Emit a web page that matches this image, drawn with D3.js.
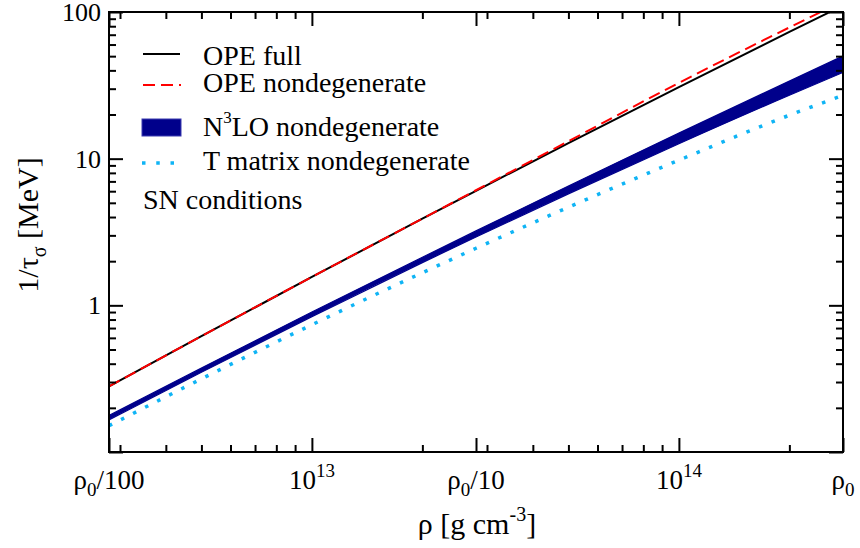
<!DOCTYPE html>
<html><head><meta charset="utf-8">
<script src="https://cdn.jsdelivr.net/npm/d3@7"></script>
<style>body{margin:0;background:#fff}svg{display:block}</style>
</head><body><svg id="c" width="860" height="548" font-family="'Liberation Serif', 'Times New Roman', Times, 'DejaVu Serif', serif"></svg>
<script>
// densities (g/cm^3)
const rho = [2.8e12, 5e12, 1e13, 2e13, 2.8e13, 5e13, 1e14, 2e14, 2.8e14];
const opeFull = [0.280, 0.616, 1.561, 3.898, 6.04, 12.77, 30.77, 73.1, 110.7];
const opeNondeg = [0.280, 0.616, 1.561, 3.90, 6.09, 13.15, 32.9, 78.5, 118.5];
const n3loLow = [0.1656, 0.3494, 0.8358, 1.956, 2.921, 5.754, 12.65, 27.09, 38.7];
const n3loHigh = [0.1774, 0.3744, 0.8997, 2.126, 3.217, 6.515, 14.94, 33.8, 50.1];
const tMatrix = [0.151, 0.3152, 0.7375, 1.668, 2.450, 4.665, 9.765, 19.78, 27.0];
const xMajor = [2.8e12, 1e13, 2.8e13, 1e14, 2.8e14];
const xMajorLabels = [["ρ","0","/100"], ["10","13",""], ["ρ","0","/10"], ["10","14",""], ["ρ","0",""]];
const xMinor = [3e12,4e12,5e12,6e12,7e12,8e12,9e12,2e13,3e13,4e13,5e13,6e13,7e13,8e13,9e13,2e14];
const yMajor = [0.1, 1, 10, 100];
const yMajorLabels = ["", "1", "10", "100"];
const yMinor = [0.2,0.3,0.4,0.5,0.6,0.7,0.8,0.9,2,3,4,5,6,7,8,9,20,30,40,50,60,70,80,90];
const legendItems = ["OPE full", "OPE nondegenerate", "N3LO nondegenerate", "T matrix nondegenerate"];
const note = "SN conditions";

const L = 109, R = 843, T = 12, B = 452;
const svg = d3.select("#c");
const x = d3.scaleLog().domain([2.8e12, 2.8e14]).range([L, R]);
const y = d3.scaleLog().domain([0.1, 100]).range([B, T]);

svg.append("clipPath").attr("id","clip").append("rect").attr("x",L).attr("y",T).attr("width",R-L).attr("height",B-T);
const g = svg.append("g").attr("clip-path","url(#clip)");

const idx = d3.range(rho.length);
const line = arr => d3.line().x(i => x(rho[i])).y(i => y(arr[i])).curve(d3.curveMonotoneX)(idx);
const area = d3.area().x(i => x(rho[i])).y0(i => y(n3loLow[i])).y1(i => y(n3loHigh[i])).curve(d3.curveMonotoneX);

g.append("path").attr("d", area(idx)).attr("fill","#00008b").attr("stroke","#00008b").attr("stroke-width",1.2);
g.append("path").attr("d", line(tMatrix)).attr("fill","none").attr("stroke","#0fb4f5").attr("stroke-width",3.5).attr("stroke-dasharray","3.5,10");
g.append("path").attr("d", line(opeFull)).attr("fill","none").attr("stroke","#000").attr("stroke-width",2);
g.append("path").attr("d", line(opeNondeg)).attr("fill","none").attr("stroke","#ff0000").attr("stroke-width",2).attr("stroke-dasharray","12,6");

// frame
svg.append("rect").attr("x",L).attr("y",T).attr("width",R-L).attr("height",B-T).attr("fill","none").attr("stroke","#000").attr("stroke-width",2);

// axes (inward ticks, mirrored)
const mk = (fn, vals, len) => fn(x).tickValues(vals).tickSizeInner(-len).tickSizeOuter(0).tickFormat("");
const mky = (fn, vals, len) => fn(y).tickValues(vals).tickSizeInner(-len).tickSizeOuter(0).tickFormat("");
[[mk(d3.axisBottom,xMajor,14),0,B],[mk(d3.axisBottom,xMinor,7),0,B],[mk(d3.axisTop,xMajor,14),0,T],[mk(d3.axisTop,xMinor,7),0,T],
 [mky(d3.axisLeft,yMajor,14),L,0],[mky(d3.axisLeft,yMinor,7),L,0],[mky(d3.axisRight,yMajor,14),R,0],[mky(d3.axisRight,yMinor,7),R,0]].forEach(([ax,tx,ty])=>{
  const a = svg.append("g").attr("transform",`translate(${tx},${ty})`).call(ax);
  a.select(".domain").remove();
  a.selectAll("line").attr("stroke","#000").attr("stroke-width",2);
  a.selectAll("text").remove();
});

const FF = "'Liberation Serif', 'Times New Roman', Times, 'DejaVu Serif', serif";
// x tick labels
xMajor.forEach((v,i)=>{
  const [a,s,b] = xMajorLabels[i];
  const isPow = a === "10";
  const t = svg.append("text").attr("font-family",FF).attr("x", x(v)).attr("y", 489).attr("text-anchor","middle").attr("font-size",27);
  t.append("tspan").text(a);
  t.append("tspan").attr("font-size",19).attr("dy", isPow ? -12 : 7).text(s);
  if (b) t.append("tspan").attr("dy", isPow ? 12 : -7).text(b);
});
// y tick labels
yMajor.forEach((v,i)=>{
  if (!yMajorLabels[i]) return;
  svg.append("text").attr("font-family",FF).attr("x",101).attr("y", y(v)+9).attr("text-anchor","end").attr("font-size",26).text(yMajorLabels[i]);
});

// axis titles
const xt = svg.append("text").attr("font-family",FF).attr("x",477).attr("y",534).attr("text-anchor","middle").attr("font-size",30);
xt.append("tspan").text("ρ [g cm");
xt.append("tspan").attr("font-size",20).attr("dy",-13).text("-3");
xt.append("tspan").attr("dy",13).text("]");
const yt = svg.append("text").attr("font-family",FF).attr("transform","translate(38,225) rotate(-90)").attr("text-anchor","middle").attr("font-size",30);
yt.append("tspan").text("1/τ");
yt.append("tspan").attr("font-size",20).attr("dy",8).text("σ");
yt.append("tspan").attr("dy",-8).text(" [MeV]");

// legend
const lx = 203;
svg.append("line").attr("x1",143).attr("x2",180).attr("y1",54).attr("y2",54).attr("stroke","#000").attr("stroke-width",2);
svg.append("line").attr("x1",143).attr("x2",181).attr("y1",85).attr("y2",85).attr("stroke","#ff0000").attr("stroke-width",2).attr("stroke-dasharray","12,6");
svg.append("rect").attr("x",142).attr("y",119).attr("width",39).attr("height",17).attr("fill","#00008b").attr("stroke","#3a3ab0").attr("stroke-width",1);
svg.append("line").attr("x1",142).attr("x2",178).attr("y1",163).attr("y2",163).attr("stroke","#0fb4f5").attr("stroke-width",3.5).attr("stroke-dasharray","3.5,10.75");
svg.append("text").attr("font-family",FF).attr("x",lx).attr("y",65).attr("font-size",28).text(legendItems[0]);
svg.append("text").attr("font-family",FF).attr("x",lx).attr("y",92).attr("font-size",28).text(legendItems[1]);
const n3 = svg.append("text").attr("font-family",FF).attr("x",lx).attr("y",136).attr("font-size",28);
n3.append("tspan").text("N");
n3.append("tspan").attr("font-size",17).attr("dy",-13).text("3");
n3.append("tspan").attr("dy",13).text("LO nondegenerate");
svg.append("text").attr("font-family",FF).attr("x",lx).attr("y",170).attr("font-size",28).text(legendItems[3]);
svg.append("text").attr("font-family",FF).attr("x",lx-60).attr("y",209).attr("font-size",28).text(note);
</script></body></html>
